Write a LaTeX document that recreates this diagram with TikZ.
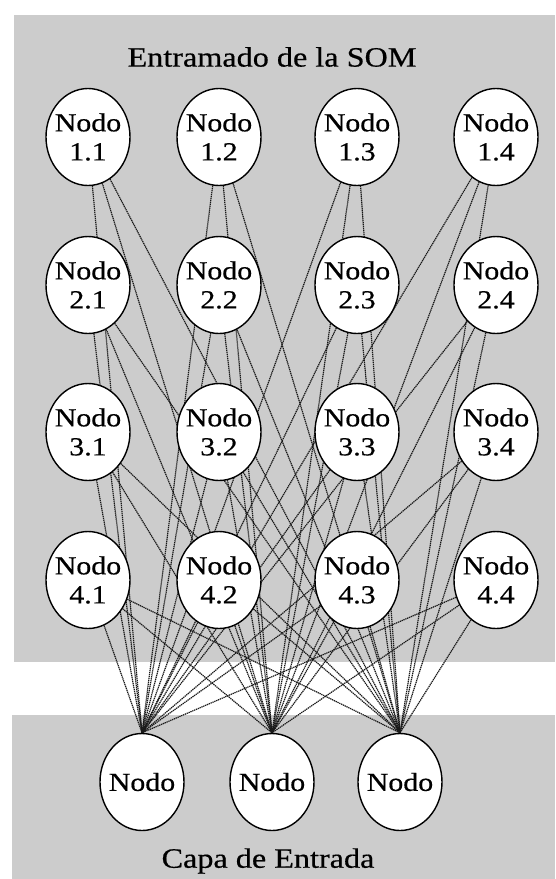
\documentclass[tikz,border=0pt]{standalone}
\usepackage{fontspec}
\setmainfont[FakeStretch=1.15, FakeBold=0.5]{Liberation Serif}
\usetikzlibrary{shapes.geometric}
\pgfdeclarelayer{panel}
\pgfdeclarelayer{links}
\pgfsetlayers{panel,links,main}
\definecolor{panelgray}{gray}{0.80}
\begin{document}
\begin{tikzpicture}[x=1pt,y=-1pt,
  neuron/.style={ellipse, draw=black, line width=1.4pt, fill=white,
    minimum width=84pt, minimum height=97pt, inner xsep=-8pt, inner ysep=0pt,
    align=center, font=\fontsize{26}{29}\selectfont},
  link/.style={draw=black!90, line width=1.2pt, dash pattern=on 1.3pt off 0.7pt},
  heading/.style={font=\fontsize{28}{32}\selectfont}]
\useasboundingbox (0,0) rectangle (555,879);

% SOM lattice, 4 x 4
\foreach \r/\y in {1/137,2/285,3/432,4/580}{
  \foreach \c/\x in {1/88,2/219,3/357,4/496}{
    \node[neuron] (s\r\c) at (\x,\y) {Nodo\\\r.\c};
  }
}

% input layer
\foreach \i/\x in {1/142,2/272,3/400}{
  \node[neuron] (in\i) at (\x,782) {Nodo};
}

% labels
\node[heading] (title) at (272,57) {Entramado de la SOM};
\node[heading] (caption) at (268,861) {Capa de Entrada};

% every lattice node is linked to every input node
\begin{pgfonlayer}{links}
\foreach \r in {1,...,4}{
  \foreach \c in {1,...,4}{
    \foreach \i in {1,2,3}{
      \draw[link] (s\r\c) -- (in\i.north);
    }
  }
}
\end{pgfonlayer}

% background panels
\begin{pgfonlayer}{panel}
\fill[panelgray] (14,15) rectangle (555,662);
\fill[panelgray] (12,715) rectangle (555,879);
\end{pgfonlayer}
\end{tikzpicture}
\end{document}
